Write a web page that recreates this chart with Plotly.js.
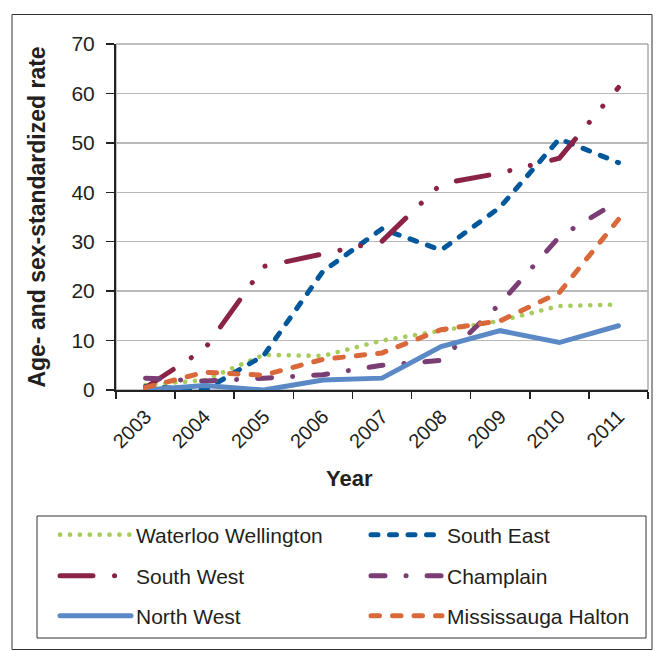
<!DOCTYPE html>
<html>
<head>
<meta charset="utf-8">
<script src="https://cdn.plot.ly/plotly-3.0.1.min.js"></script>
<style>
  html, body { margin: 0; padding: 0; background: #fff; }
  #chart { width: 661px; height: 651px; }
  .js-line { stroke-linecap: round !important; }
</style>
</head>
<body>
<div id="chart"></div>
<script>
// ---- data ----
const years = ['2003', '2004', '2005', '2006', '2007', '2008', '2009', '2010', '2011'];
const waterlooWellington = [1.0, 2.0, 7.1, 6.9, 10.0, 12.1, 14.0, 17.0, 17.3];
const southEast          = [0.7, 0.0, 7.0, 24.0, 32.6, 28.3, 37.0, 50.8, 46.0];
const southWest          = [0.5, 8.3, 25.0, 27.6, 30.1, 41.7, 43.9, 46.9, 61.2];
const champlain          = [2.4, 1.8, 2.4, 3.1, 5.0, 6.0, 17.5, 31.0, 38.2];
const northWest          = [0.0, 0.9, 0.0, 2.0, 2.4, 8.8, 12.0, 9.6, 13.0];
const mississaugaHalton  = [0.5, 3.6, 3.0, 6.2, 7.5, 12.2, 14.0, 19.7, 34.5];
const seriesNames = ['Waterloo Wellington', 'South East', 'South West', 'Champlain', 'North West', 'Mississauga Halton'];
const yTitle = 'Age- and sex-standardized rate';
const xTitle = 'Year';

// ---- geometry helpers (pixel -> paper) ----
const W = 661, H = 651, ML = 116, MR = 13, MT = 44, MB = 261;
const PW = W - ML - MR, PH = H - MT - MB;
const xp = px => (px - ML) / PW;
const yp = py => (H - MB - py) / PH;

const FONT = 'Liberation Sans, Arial, Helvetica, sans-serif';
const TXT = '#231f20';

function tr(name, y, color, dash, width, legend) {
  return {
    type: 'scatter', mode: 'lines', name: name, x: years, y: y,
    line: { color: color, dash: dash, width: width, shape: 'linear' },
    legend: legend, hoverinfo: 'skip'
  };
}

const data = [
  tr(seriesNames[0], waterlooWellington, '#a6cd5b', '0.1px,9.8px', 4.6, 'legend'),
  tr(seriesNames[1], southEast, '#00589a', '7px,11.5px', 5, 'legend'),
  tr(seriesNames[2], southWest, '#8b2346', '33px,21.5px,0.1px,21px,0.1px,22px', 5, 'legend2'),
  tr(seriesNames[3], champlain, '#7b3e74', '14px,21px,0.1px,21px', 5, 'legend2'),
  tr(seriesNames[4], northWest, '#5a89c6', 'solid', 5, 'legend3'),
  tr(seriesNames[5], mississaugaHalton, '#d9693b', '8.5px,13px', 5, 'legend3')
];

function leg(rowY) {
  return {
    orientation: 'h', x: xp(55), xanchor: 'left', y: yp(rowY), yanchor: 'middle',
    entrywidth: 225, entrywidthmode: 'pixels', itemwidth: 71,
    font: { family: FONT, size: 21, color: TXT },
    bgcolor: 'rgba(0,0,0,0)', borderwidth: 0, traceorder: 'normal'
  };
}

const layout = {
  width: W, height: H,
  margin: { l: ML, r: MR, t: MT, b: MB, pad: 0, autoexpand: false },
  paper_bgcolor: '#ffffff', plot_bgcolor: '#ffffff',
  font: { family: FONT, size: 20, color: TXT },
  showlegend: true,
  legend: leg(535), legend2: leg(576), legend3: leg(616),
  xaxis: {
    type: 'category', categoryorder: 'array', categoryarray: years,
    range: [-0.5, 8.5], tickson: 'boundaries',
    ticks: 'outside', ticklen: 7, tickwidth: 1.5, tickcolor: '#222',
    ticklabelstandoff: 5,
    showline: true, linecolor: '#222', linewidth: 2,
    showgrid: false, zeroline: false, tickangle: -45,
    tickfont: { family: FONT, size: 20, color: TXT }
  },
  yaxis: {
    range: [0, 70], dtick: 10, tick0: 0,
    ticks: 'outside', ticklen: 8, tickwidth: 1.5, tickcolor: '#222',
    ticklabelstandoff: 7,
    showline: true, linecolor: '#222', linewidth: 2,
    showgrid: true, gridcolor: '#b9b9b9', gridwidth: 1.5, zeroline: false,
    tickfont: { family: FONT, size: 21, color: TXT },
    title: { text: yTitle, standoff: 19, font: { family: FONT, size: 23, color: TXT, weight: 'bold' } }
  },
  annotations: [
    { text: xTitle, xref: 'paper', yref: 'paper', x: xp(349), y: yp(478),
      xanchor: 'center', yanchor: 'middle', showarrow: false,
      font: { family: FONT, size: 22, color: TXT, weight: 'bold' } }
  ],
  shapes: [
    // plot-area frame
    { type: 'rect', xref: 'paper', yref: 'paper', x0: 0, x1: 1, y0: 0, y1: 1,
      line: { color: '#808080', width: 1 }, layer: 'below' },
    // legend box
    { type: 'rect', xref: 'paper', yref: 'paper', x0: xp(37), x1: xp(646), y0: yp(638), y1: yp(516),
      line: { color: '#333', width: 1 }, layer: 'above' },
    // outer frame
    { type: 'rect', xref: 'paper', yref: 'paper', x0: xp(12), x1: xp(652), y0: yp(649.5), y1: yp(14.5),
      line: { color: '#333', width: 1 }, layer: 'above' }
  ]
};

Plotly.newPlot('chart', data, layout, { staticPlot: true, displayModeBar: false });
</script>
</body>
</html>
